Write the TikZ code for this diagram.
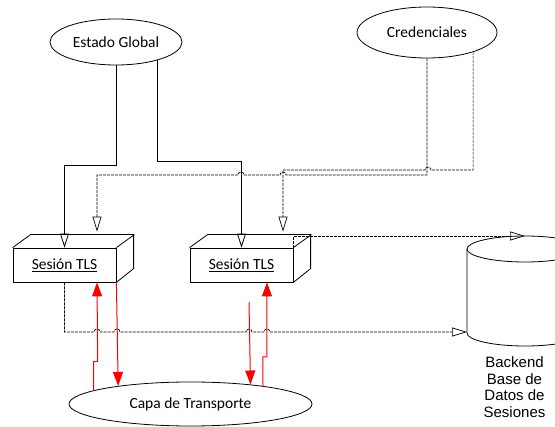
\documentclass[tikz,border=0pt]{standalone}
\usepackage{fontspec}
\setmainfont{Carlito}
\newfontfamily\arialfont{Liberation Sans}
\usetikzlibrary{arrows.meta, shapes, positioning, calc}

\begin{document}
\begin{tikzpicture}[x=1pt,y=-1pt,
            font=\fontsize{15.5}{18}\selectfont,
            sline/.style={draw, line width=.8pt, -{Triangle[open,length=14pt,width=9pt]}},
            dline/.style={draw, line width=.7pt, dash pattern=on 3pt off 1pt, -{Triangle[open,length=15pt,width=9pt]}},
            rline/.style={draw=red, line width=1pt, -{Triangle[length=14pt,width=10pt]}}]
             \useasboundingbox (0,0) rectangle (555,427);
             \clip (0,0) rectangle (555,427);

             \tikzstyle{oval} = [draw, ellipse, inner sep=0pt, line width=.8pt]
             \tikzstyle{sesion} = [draw, rectangle, minimum width=103pt, minimum height=34pt, inner sep=0pt, line width=.8pt]

             \node [oval, minimum width=132pt, minimum height=46pt] at (116,42) (estado) {Estado Global};
             \node [oval, minimum width=140pt, minimum height=51pt] at (427,32.5) (cred) {Credenciales};

             \node [sesion] at (64.5,265) (tls1) {\underline{Sesión TLS}};
             \node [sesion] at (241.5,265) (tls2) {\underline{Sesión TLS}};
             \foreach \b in {tls1,tls2}{
               \draw [line width=.8pt] (\b.north west) -- ++(18,-13) -- ++(103,0) -- ++(0,34) -- (\b.south east);
               \draw [line width=.8pt] (\b.north east) -- ++(18,-13);
             }

             \node [oval, minimum width=243pt, minimum height=44pt] at (190.5,404) (capa) {Capa de Transporte};

             % base de datos de sesiones
             \draw [line width=.8pt] (525,249) ellipse [x radius=58, y radius=13];
             \draw [line width=.8pt] (467,249) -- (467,333) arc [start angle=180, end angle=0, x radius=58, y radius=13] -- (583,249);
             \coordinate (dbtop) at (525,236);
             \coordinate (dbside) at (467,332);
             \node [font=\arialfont\fontsize{15}{16.5}\selectfont, align=center] at (514.5,387) (dbtext) {Backend\\Base de\\Datos de\\Sesiones};

             % estado global
             \draw [sline] (estado.south) -- ++(0,100) -| (tls1.north);
             \draw [sline] (estado.-24) -- ++(0,101) -| (tls2.north);

             % credenciales
             \draw [dline] (cred.south) -- (427,175) -- (286,175) arc [start angle=0, end angle=-180, radius=3]
                   -- (244,175) arc [start angle=0, end angle=-180, radius=3] -| ([shift={(32.5,-16)}]tls1.north);
             \draw [dline] (cred.-23) |- (431,170) arc [start angle=0, end angle=-180, radius=3]
                   -| ([shift={(41.5,-16)}]tls2.north);

             % hacia el backend
             \draw [dline] (tls2.north east) |- (dbtop);
             \draw [dline] (tls1.south) |- (94,332) arc [start angle=180, end angle=360, radius=3]
                   -- (114,332) arc [start angle=180, end angle=360, radius=3]
                   -- (246,332) arc [start angle=180, end angle=360, radius=3]
                   -- (264,332) arc [start angle=180, end angle=360, radius=3] -- (dbside);

             % capa de transporte
             \coordinate (r2) at (249,302);
             \draw [rline] (capa.172) -- ++(0,-29) -- ++(4,0) -- ([xshift=32.5pt]tls1.south);
             \draw [rline] (tls1.south east) -- (capa.166);
             \draw [rline] (r2) -- (capa.18);
             \draw [rline] (capa.14) -- ++(0,-29) -- ++(4,0) -- ([xshift=25.5pt]tls2.south);
\end{tikzpicture}
\end{document}
